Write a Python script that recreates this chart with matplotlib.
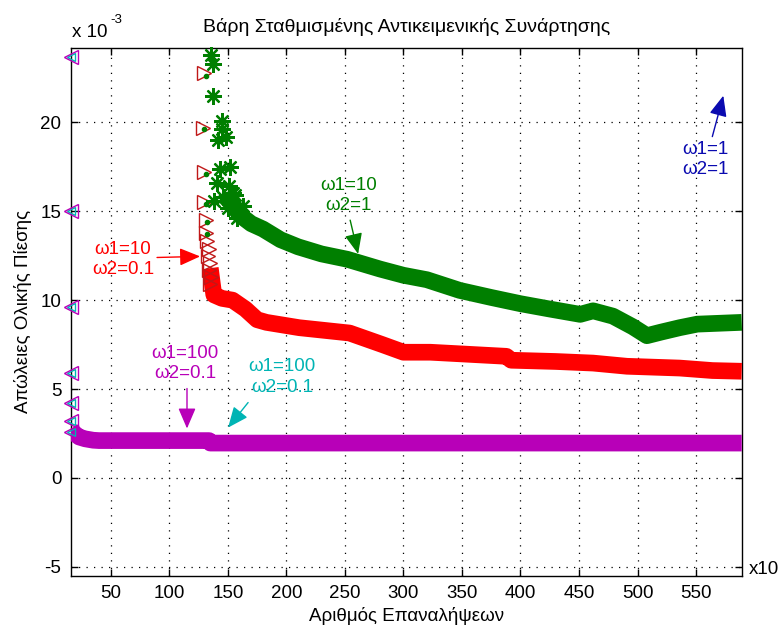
"""
Weights of the weighted objective function - total pressure losses vs iterations
(MATLAB-style figure, x axis in units of 10 iterations, y axis in units of 1e-3)
"""

### Import modules
import numpy as np
import matplotlib
matplotlib.use('Agg')
import matplotlib.pyplot as plt

### Data
# magenta : w1=100, w2=0.1 (cyan series lies underneath)
mag_pts_x = [16, 16, 16, 16, 16, 16, 16]
mag_pts_y = [23.7, 15.0, 9.6, 5.9, 4.2, 3.2, 2.6]
mag_x = [16, 19, 23, 28, 35, 40, 80, 134, 135, 200, 300, 400, 500, 589]
mag_y = [2.7, 2.5, 2.3, 2.2, 2.12, 2.1, 2.1, 2.1, 1.96, 1.96, 1.96, 1.96, 1.96, 1.96]

# red : w1=10, w2=0.1
red_pts_x = [130, 129, 130, 130, 131, 131, 132, 134, 133, 135, 134, 136, 135]
red_pts_y = [22.8, 19.7, 17.2, 15.5, 14.5, 13.8, 13.3, 12.9, 12.5, 12.1, 11.7, 11.3, 10.9]
red_x = [135, 138, 145, 154, 165, 175, 183, 211, 254, 282, 300, 323, 388, 392,
         430, 462, 491, 536, 564, 589]
red_y = [11.8, 10.3, 10.1, 10.0, 9.5, 8.9, 8.75, 8.45, 8.15, 7.5, 7.07, 7.07, 6.84, 6.62,
         6.55, 6.46, 6.28, 6.18, 6.04, 6.0]

# green : w1=10, w2=1
grn_pts_x = [136, 137, 137, 145, 145, 142, 148, 143, 152, 141, 151, 138, 146, 154,
             150, 156, 160, 158, 163]
grn_pts_y = [23.8, 23.3, 21.5, 20.1, 19.6, 19.0, 19.2, 17.4, 17.5, 16.6, 16.4, 15.6,
             15.8, 16.0, 15.2, 15.9, 15.0, 14.6, 15.3]
grn_dot_x = [131, 130, 131, 131, 132, 132]
grn_dot_y = [22.6, 19.6, 17.1, 15.4, 14.4, 13.7]
grn_x = [148, 155, 160, 170, 180, 195, 210, 230, 252, 280, 300, 320, 348, 375, 400,
         425, 451, 462, 479, 496, 508, 520, 536, 551, 570, 589]
grn_y = [15.8, 15.3, 14.8, 14.3, 14.0, 13.4, 13.0, 12.6, 12.3, 11.75, 11.4, 11.15,
         10.55, 10.15, 9.8, 9.5, 9.2, 9.4, 9.1, 8.5, 8.0, 8.2, 8.45, 8.65, 8.7, 8.75]

xticks = [50, 100, 150, 200, 250, 300, 350, 400, 450, 500, 550]
yticks = [-5, 0, 5, 10, 15, 20]

c_mag = '#b800b8'
c_cyan = '#00b4b4'
c_red = '#ff0000'
c_grn = '#007f00'
c_blue = '#0a0ab0'

###############################################################################
#### Plot Figure
plt.rcParams['font.family'] = ['Liberation Sans', 'DejaVu Sans']
plt.rcParams['font.size'] = 13.5
plt.rcParams['axes.unicode_minus'] = False

fig = plt.figure(figsize=(7.83, 6.30), dpi=100)
ax = fig.add_axes([71/783, 1-575.7/630, (741.7-71)/783, (575.7-47.7)/630])

ax.plot(mag_x, mag_y, color=c_mag, linewidth=12, solid_capstyle='butt', zorder=3)
ax.plot(red_x, red_y, color=c_red, linewidth=12, solid_capstyle='butt', zorder=3)
ax.plot(grn_x, grn_y, color=c_grn, linewidth=12, solid_capstyle='butt', zorder=3)

ax.plot(mag_pts_x, mag_pts_y, linestyle='none', marker='<', markersize=6,
        markerfacecolor='none', markeredgecolor=c_cyan, clip_on=False, zorder=4)
ax.plot(mag_pts_x, mag_pts_y, linestyle='none', marker='<', markersize=10,
        markerfacecolor='none', markeredgecolor=c_mag, clip_on=False, zorder=4)
ax.plot(red_pts_x, red_pts_y, linestyle='none', marker='>', markersize=10,
        markerfacecolor='none', markeredgecolor='#c01818', clip_on=False, zorder=4)
ax.plot(grn_dot_x, grn_dot_y, linestyle='none', marker='o', markersize=3,
        color=c_grn, clip_on=False, zorder=5)
ax.plot(grn_pts_x, grn_pts_y, linestyle='none', marker=(8, 2, 0), markersize=12,
        markeredgewidth=1.6, color=c_grn, clip_on=False, zorder=5)

ax.set_xlim(16, 589)
ax.set_ylim(-5.5, 24.2)
ax.set_xticks(xticks)
ax.set_yticks(yticks)
ax.grid(True, color='k', linestyle=(0, (1, 5)), linewidth=0.9)
ax.tick_params(direction='in', top=True, right=True, length=5, width=1,
               pad=7, colors='k')
for sp in ax.spines.values():
    sp.set_linewidth(1)

ax.set_title('Βάρη Σταθμισμένης Αντικειμενικής Συνάρτησης', fontsize=14, pad=11)
ax.set_xlabel('Αριθμός Επαναλήψεων', labelpad=3)
ax.set_ylabel('Απώλειες Ολικής Πίεσης', labelpad=6)

fig.text(72/783, 1-37/630, 'x 10', ha='left', va='baseline')
fig.text(110/783, 1-23/630, '-3', ha='left', va='baseline', fontsize=9.5)
fig.text(749/783, 1-570/630, 'x10', ha='left', va='center')

### Annotations
def note(xy, xytext, col):
    ax.annotate('', xy=xy, xytext=xytext,
                arrowprops=dict(arrowstyle='-|>,head_length=0.7,head_width=0.3',
                                color=col, lw=1, mutation_scale=18, shrinkA=0,
                                shrinkB=0), zorder=6)

ax.text(60.4, 12.3, 'ω1=10\nω2=0.1', color=c_red, ha='center', va='center',
        linespacing=1.25, zorder=6)
note((126.3, 12.46), (89.5, 12.4), c_red)

ax.text(113.4, 6.44, 'ω1=100\nω2=0.1', color=c_mag, ha='center', va='center',
        linespacing=1.25, zorder=6)
note((115.1, 2.78), (115.1, 5.03), c_mag)

ax.text(196.3, 5.68, 'ω1=100\nω2=0.1', color=c_cyan, ha='center', va='center',
        linespacing=1.25, zorder=6)
note((150.2, 2.83), (167.3, 4.24), c_cyan)

ax.text(252.8, 15.9, 'ω1=10\nω2=1', color=c_grn, ha='center', va='center',
        linespacing=1.25, zorder=6)
note((261.3, 12.6), (254.5, 14.5), c_grn)

ax.text(557.9, 17.9, 'ω1=1\nω2=1', color=c_blue, ha='center', va='center',
        linespacing=1.25, zorder=6)
note((573.3, 21.5), (563.9, 19.2), c_blue)

### Save figure
plt.savefig('out.png', dpi=100, facecolor='white')
